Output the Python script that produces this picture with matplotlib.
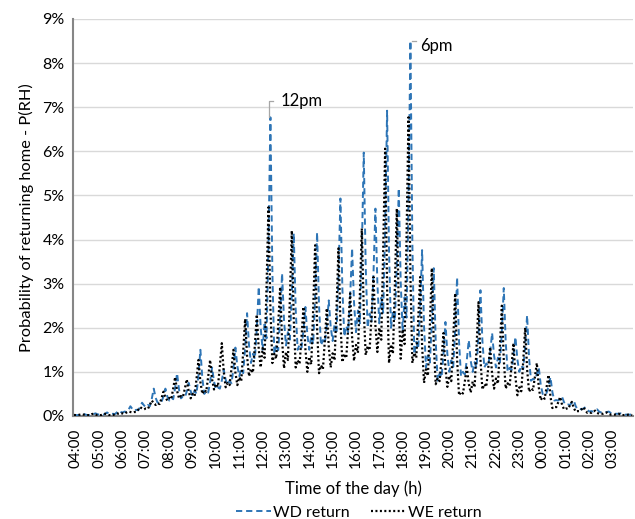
import matplotlib
matplotlib.use("Agg")
import matplotlib.pyplot as plt
from matplotlib.ticker import PercentFormatter, FixedLocator, MultipleLocator

plt.rcParams['font.family'] = ['Lato', 'DejaVu Sans']

# 5-minute samples, 288 per day, one row per hour (04:00 ... 03:00)
wd_return = [
    0.03,0.02,0.02,0.02,0.03,0.05, 0.03,0.02,0.02,0.02,0.04,0.06,
    0.04,0.03,0.04,0.03,0.05,0.08, 0.05,0.04,0.05,0.04,0.08,0.12,
    0.09,0.08,0.10,0.09,0.14,0.22, 0.16,0.12,0.14,0.13,0.20,0.30,
    0.24,0.20,0.25,0.22,0.39,0.62, 0.41,0.30,0.34,0.32,0.44,0.62,
    0.44,0.35,0.42,0.38,0.63,0.97, 0.60,0.40,0.44,0.42,0.56,0.75,
    0.56,0.45,0.58,0.50,0.92,1.50, 0.85,0.50,0.57,0.53,0.77,1.10,
    0.78,0.60,0.65,0.62,0.80,1.05, 0.82,0.70,0.80,0.74,1.08,1.55,
    1.13,0.90,1.07,0.97,1.54,2.33, 1.60,1.20,1.41,1.29,1.98,2.93,
    2.00,1.50,2.13,1.76,3.87,6.77, 3.28,1.40,1.62,1.49,2.22,3.23,
    2.17,1.60,1.90,1.73,2.74,4.14, 2.42,1.50,1.62,1.55,1.94,2.47,
    1.84,1.50,1.82,1.63,2.70,4.16, 2.50,1.60,1.72,1.65,2.06,2.62,
    2.02,1.70,2.09,1.86,3.15,4.93, 2.90,1.80,2.04,1.90,2.70,3.80,
    2.57,1.90,2.39,2.10,3.73,5.97, 3.39,2.00,2.32,2.14,3.22,4.70,
    3.01,2.10,2.68,2.34,4.27,6.92, 3.72,2.00,2.38,2.16,3.42,5.16,
    3.04,1.90,2.69,2.23,4.87,8.50, 3.89,1.40,1.68,1.52,2.46,3.76,
    2.03,1.10,1.37,1.21,2.11,3.35, 1.69,0.80,0.96,0.87,1.40,2.13,
    1.40,1.00,1.26,1.11,1.96,3.14, 1.68,0.90,1.00,0.94,1.27,1.72,
    1.25,1.00,1.22,1.09,1.83,2.85, 1.71,1.10,1.19,1.14,1.45,1.88,
    1.37,1.10,1.32,1.19,1.91,2.90, 1.67,1.00,1.09,1.04,1.36,1.79,
    1.28,1.00,1.15,1.06,1.58,2.28, 1.32,0.80,0.84,0.82,0.94,1.10,
    0.71,0.50,0.55,0.52,0.67,0.88, 0.54,0.35,0.36,0.35,0.39,0.43,
    0.31,0.25,0.26,0.25,0.30,0.35, 0.22,0.15,0.16,0.15,0.17,0.20,
    0.14,0.10,0.11,0.10,0.12,0.15, 0.10,0.08,0.08,0.08,0.09,0.10,
    0.07,0.05,0.05,0.05,0.05,0.06, 0.04,0.03,0.03,0.03,0.03,0.04,
]

we_return = [
    0.02,0.02,0.02,0.03,0.04,0.03, 0.02,0.02,0.02,0.04,0.05,0.03,
    0.02,0.02,0.02,0.04,0.05,0.03, 0.02,0.02,0.02,0.04,0.06,0.05,
    0.05,0.06,0.05,0.08,0.10,0.09, 0.08,0.09,0.09,0.14,0.20,0.17,
    0.15,0.17,0.16,0.25,0.35,0.29, 0.25,0.29,0.27,0.40,0.55,0.42,
    0.35,0.41,0.38,0.62,0.88,0.57, 0.40,0.45,0.43,0.62,0.83,0.55,
    0.40,0.50,0.45,0.84,1.27,0.77, 0.50,0.59,0.55,0.89,1.27,0.83,
    0.60,0.73,0.66,1.13,1.65,1.00, 0.65,0.75,0.70,1.08,1.50,0.98,
    0.70,0.88,0.79,1.45,2.20,1.36, 0.90,1.07,0.98,1.60,2.30,1.52,
    1.10,1.54,1.32,2.92,4.73,2.44, 1.20,1.41,1.30,2.06,2.92,1.72,
    1.08,1.45,1.27,2.64,4.20,2.19, 1.10,1.26,1.18,1.79,2.47,1.51,
    1.00,1.34,1.17,2.44,3.87,1.99, 0.97,1.15,1.06,1.71,2.44,1.57,
    1.10,1.42,1.26,2.45,3.80,2.12, 1.22,1.41,1.31,2.00,2.78,1.79,
    1.25,1.61,1.43,2.75,4.25,2.38, 1.38,1.59,1.49,2.27,3.15,2.05,
    1.45,2.00,1.73,3.76,6.06,2.90, 1.20,1.62,1.41,2.95,4.70,2.49,
    1.30,1.96,1.63,4.04,6.77,3.15, 1.20,1.43,1.32,2.18,3.15,1.59,
    0.75,1.06,0.91,2.05,3.35,1.64, 0.72,0.86,0.79,1.30,1.88,1.09,
    0.66,0.91,0.79,1.72,2.78,1.28, 0.47,0.55,0.51,0.79,1.10,0.73,
    0.53,0.78,0.65,1.56,2.58,1.29, 0.60,0.72,0.66,1.08,1.56,0.95,
    0.62,0.85,0.73,1.56,2.50,1.28, 0.62,0.74,0.68,1.14,1.65,0.88,
    0.47,0.65,0.56,1.24,2.00,1.06, 0.55,0.63,0.59,0.88,1.20,0.65,
    0.36,0.43,0.39,0.65,0.93,0.44, 0.18,0.21,0.20,0.31,0.43,0.25,
    0.15,0.17,0.16,0.24,0.32,0.18, 0.10,0.11,0.11,0.15,0.20,0.12,
    0.07,0.08,0.07,0.10,0.12,0.07, 0.05,0.05,0.05,0.07,0.08,0.05,
    0.03,0.03,0.03,0.04,0.05,0.03, 0.02,0.02,0.02,0.03,0.03,0.02,
]

hour_labels = ["04:00", "05:00", "06:00", "07:00", "08:00", "09:00", "10:00", "11:00",
               "12:00", "13:00", "14:00", "15:00", "16:00", "17:00", "18:00", "19:00",
               "20:00", "21:00", "22:00", "23:00", "00:00", "01:00", "02:00", "03:00"]

wd = [v / 100 for v in wd_return]
we = [v / 100 for v in we_return]
idx = list(range(len(wd)))

fig = plt.figure(figsize=(6.35, 5.19), dpi=100)
ax = fig.add_axes([0.115, 0.1985, 0.882, 0.765])

ax.plot(idx, wd, color="#2E75B6", lw=1.4, linestyle=(0, (3.2, 2.0)), label="WD return", zorder=3)
ax.plot(idx, we, color="black", lw=1.6, linestyle=(0, (0.9, 1.1)), label="WE return", zorder=3)

ax.set_xlim(-0.5, len(wd) - 0.5)
ax.set_ylim(0, 0.09)
ax.yaxis.set_major_locator(MultipleLocator(0.01))
ax.yaxis.set_major_formatter(PercentFormatter(1.0, decimals=0))
ax.xaxis.set_major_locator(FixedLocator([1 + 12 * i for i in range(len(hour_labels))]))
ax.set_xticklabels(hour_labels, rotation=90)
ax.tick_params(axis='x', length=0, pad=9, labelsize=11, colors="#000000")
ax.tick_params(axis='y', length=0, pad=6, labelsize=11.5, colors="#000000")

ax.grid(axis='y', color="#d9d9d9", lw=1.0)
ax.set_axisbelow(True)
for s in ("top", "right"):
    ax.spines[s].set_visible(False)
for s in ("left", "bottom"):
    ax.spines[s].set_color("#868686")
    ax.spines[s].set_linewidth(1.5)

ax.set_ylabel("Probability of returning home - P(RH)", fontsize=11.8, labelpad=6)
ax.set_xlabel("Time of the day (h)", fontsize=12, labelpad=9)

# annotations
i12 = 101
ax.plot([i12 - 0.5, i12 - 0.5, i12 + 1.5], [wd[i12] + 0.0001, 0.0713, 0.0713], color="#a6a6a6", lw=0.9, zorder=4)
ax.text(i12 + 5, 0.0713, "12pm", fontsize=12, va="center", ha="left")
i6 = 173
ax.plot([i6 + 0.8, i6 + 3.0], [0.0850, 0.0850], color="#a6a6a6", lw=0.9, zorder=4)
ax.text(i6 + 5, 0.0838, "6pm", fontsize=12, va="center", ha="left")

leg = fig.legend(loc="center", bbox_to_anchor=(0.565, 0.0125), ncol=2, frameon=False,
                 fontsize=11.5, handlelength=2.2, handletextpad=0.15, columnspacing=1.3,
                 borderpad=0.1)

fig.savefig("out.png", dpi=100)
